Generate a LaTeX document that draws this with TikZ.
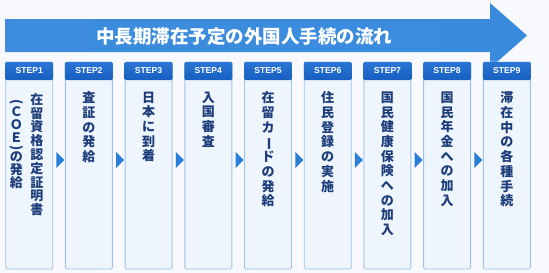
\documentclass[tikz,border=0pt]{standalone}
\usepackage{fontspec}
\newfontfamily\jp{Noto Sans CJK JP}
\newfontfamily\stepfont{Liberation Sans}
\usetikzlibrary{calc}
\definecolor{bgcol}{HTML}{F7F9FC}
\definecolor{arrowA}{HTML}{3D8CDD}
\definecolor{arrowB}{HTML}{135CBE}
\definecolor{arrowC}{HTML}{3A8BDE}
\definecolor{boxfill}{HTML}{EEF5FD}
\definecolor{boxborder}{HTML}{9CC3EE}
\definecolor{headtop}{HTML}{2A76D5}
\definecolor{headbot}{HTML}{175EC0}
\definecolor{tricol}{HTML}{2B7FD9}
\definecolor{txtcol}{HTML}{1C3D7A}
\newcommand\rb[1]{\rotatebox[origin=c]{-90}{#1}}
\tikzset{
  stepbox/.style={rectangle, draw=boxborder, line width=0.9pt, fill=boxfill,
    rounded corners=1.5pt, minimum width=47pt, minimum height=207pt, inner sep=0pt},
  stephead/.style={rectangle, top color=headtop, bottom color=headbot,
    rounded corners=1.2pt, minimum width=47.9pt, minimum height=18pt, inner sep=0pt,
    text=white, font=\stepfont\bfseries\fontsize{8.6}{10}\selectfont},
  vtxt/.style={inner sep=0pt, align=center, anchor=north, text=txtcol,
    font=\jp\bfseries\fontsize{13}{14.7}\selectfont},
  vtxtA/.style={vtxt, font=\jp\bfseries\fontsize{13}{13.8}\selectfont},
  vtxtB/.style={vtxt, font=\jp\bfseries\fontsize{13}{13}\selectfont},
  titletext/.style={inner sep=0pt, text=white, font=\jp\bfseries\fontsize{18.5}{20}\selectfont},
}
\begin{document}
\begin{tikzpicture}[x=1pt,y=-1pt]
\useasboundingbox (0,0) rectangle (549,273);
\fill[bgcol] (0,0) rectangle (549,273);
% big arrow
\shade[left color=arrowA, middle color=arrowB, right color=arrowC]
  (5,19) -- (490,19) -- (490,3) -- (527,35.5) -- (490,68) -- (490,52) -- (5,52) -- cycle;
\node[titletext] (title) at (244,36) {中長期滞在予定の外国人手続の流れ};
% step boxes
\foreach \i in {1,...,9}{
  \pgfmathsetmacro\L{5.7+59.7*(\i-1)}
  \node[stepbox] (s\i) at (\L+23.5,165.5) {};
  \node[stephead] (h\i) at (\L+23.5,71) {STEP\i};
}
% triangles between boxes
\foreach \i [evaluate=\i as \j using int(\i+1)] in {1,...,8}{
  \coordinate (m\i) at ($(s\i.east)!0.5!(s\j.west)+(1.4,-5.5)$);
  \fill[tricol] ($(m\i)+(-4,-8)$) -- ($(m\i)+(4,0)$) -- ($(m\i)+(-4,8)$) -- cycle;
}
% texts
\node[vtxtA] (t1a) at ($(s1.north)+(7.8,31.5)$) {在\\留\\資\\格\\認\\定\\証\\明\\書};
\node[vtxtB] (t1b) at ($(s1.north)+(-12.8,38)$) {\rb{(}\\[-3pt]Ｃ\\Ｏ\\Ｅ\\[-3pt]\rb{)}\\[-4pt]の\\発\\給};
\node[vtxt] (t2) at ($(s2.north)+(0,30)$) {査\\証\\の\\発\\給};
\node[vtxt] (t3) at ($(s3.north)+(0,30)$) {日\\本\\に\\到\\着};
\node[vtxt] (t4) at ($(s4.north)+(0,30)$) {入\\国\\審\\査};
\node[vtxt] (t5) at ($(s5.north)+(0,30)$) {在\\留\\カ\\\rb{ー}\\ド\\の\\発\\給};
\node[vtxt] (t6) at ($(s6.north)+(0,30)$) {住\\民\\登\\録\\の\\実\\施};
\node[vtxt] (t7) at ($(s7.north)+(0,30)$) {国\\民\\健\\康\\保\\険\\へ\\の\\加\\入};
\node[vtxt] (t8) at ($(s8.north)+(0,30)$) {国\\民\\年\\金\\へ\\の\\加\\入};
\node[vtxt] (t9) at ($(s9.north)+(0,30)$) {滞\\在\\中\\の\\各\\種\\手\\続};
\end{tikzpicture}
\end{document}
